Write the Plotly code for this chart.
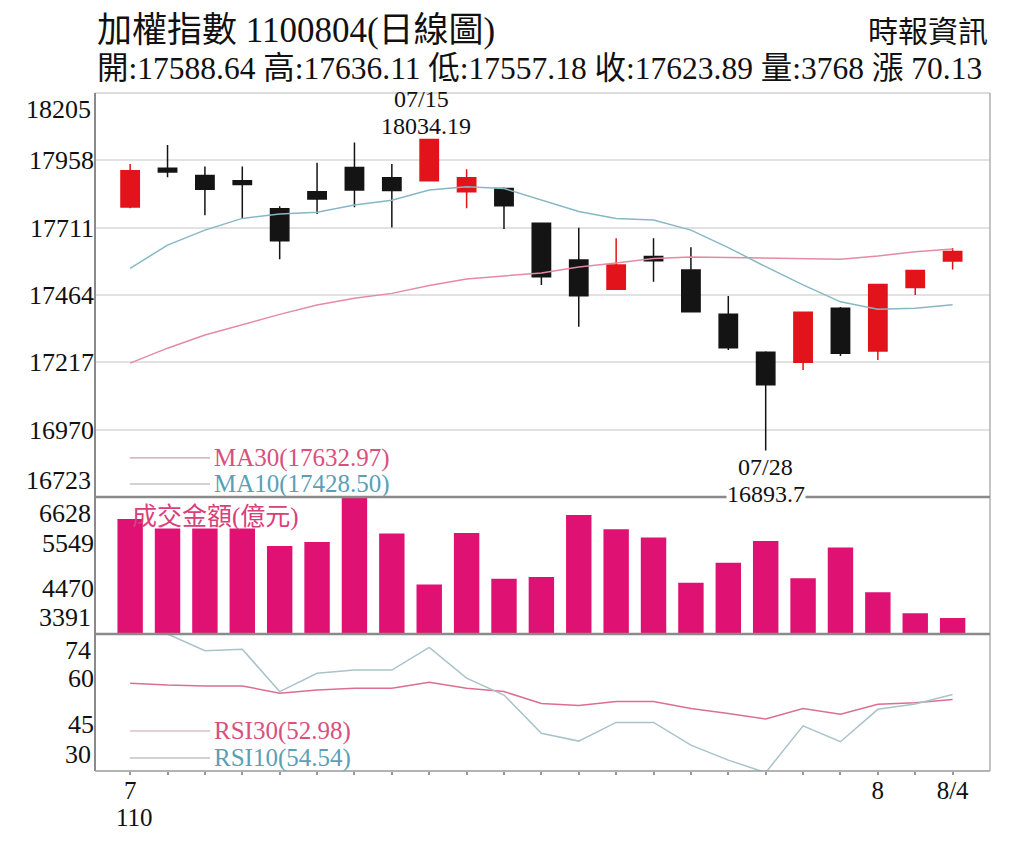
import plotly.graph_objects as go

# ---------------- data ----------------
DATES = ["07/05", "07/06", "07/07", "07/08", "07/09", "07/12", "07/13", "07/14",
         "07/15", "07/16", "07/19", "07/20", "07/21", "07/22", "07/23", "07/26",
         "07/27", "07/28", "07/29", "07/30", "08/02", "08/03", "08/04"]
TICK_TEXT = ["7", "", "", "", "", "", "", "", "", "", "", "", "", "", "", "",
             "", "", "", "", "8", "", "8/4"]
YEAR_LABEL = "110"

OPEN = [17787, 17929, 17902, 17883, 17780, 17843, 17932, 17894, 17883, 17843, 17855, 17727,
        17592, 17485, 17605, 17556, 17393, 17254, 17217, 17415, 17259, 17492, 17588.64]
HIGH = [17945, 18014, 17935, 17935, 17790, 17949, 18023, 17945, 18034.19, 17925, 17858, 17730,
        17711, 17672, 17672, 17639, 17460, 17258, 17403, 17420, 17505, 17556, 17636.11]
LOW = [17782, 17896, 17757, 17745, 17595, 17761, 17786, 17712, 17880, 17782, 17706, 17501,
       17348, 17483, 17513, 17400, 17262, 16893.7, 17189, 17240, 17226, 17464, 17557.18]
CLOSE = [17920, 17915, 17852, 17869, 17663, 17816, 17849, 17847, 18034.19, 17894, 17791, 17531,
         17461, 17574, 17590, 17403, 17271, 17135, 17401, 17250, 17503, 17553.76, 17623.89]

MA10 = [17562, 17647, 17702, 17745, 17761, 17768, 17794, 17812, 17849, 17861, 17855, 17812,
        17770, 17745, 17739, 17702, 17638, 17568, 17501, 17439, 17412, 17415, 17428.50]
MA30 = [17214, 17269, 17317, 17354, 17393, 17427, 17452, 17470, 17499, 17523, 17534, 17545,
        17567, 17581, 17598, 17603, 17602, 17599, 17596, 17595, 17607, 17623, 17632.97]

VOLUME = [6106, 5885, 5885, 5885, 5471, 5566, 6700, 5766, 4562, 5780, 4697, 4735,
          6201, 5868, 5671, 4602, 5077, 5590, 4711, 5433, 4379, 3880, 3768]

RSI30 = [58.2, 57.6, 57.3, 57.3, 55.0, 56.0, 56.6, 56.6, 58.5, 56.6, 55.5, 51.7,
         51.0, 52.3, 52.3, 50.1, 48.5, 46.7, 50.1, 48.2, 51.4, 51.9, 52.98]
RSI10 = [77.0, 74.0, 68.6, 69.1, 55.5, 61.4, 62.4, 62.4, 69.7, 59.8, 54.4, 42.1,
         39.6, 45.6, 45.6, 38.3, 33.5, 29.5, 44.5, 39.4, 49.8, 51.5, 54.54]

PRICE_TICKS = [18205, 17958, 17711, 17464, 17217, 16970, 16723]
VOL_TICKS = [6628, 5549, 4470, 3391]
RSI_TICKS = [74, 60, 45, 30]

TITLE = "加權指數 1100804(日線圖)"
SOURCE = "時報資訊"

X = list(range(len(OPEN)))

# ---------------- style ----------------
RED = "#e3131b"
BLACK = "#141414"
MAG = "#df1172"
MA30_C = "#e58aa2"
MA10_C = "#86b8c4"
MA30_T = "#d9507d"
MA10_T = "#5b9fb6"
RSI30_C = "#dc6f90"
RSI10_C = "#a9c3ca"
FONT = "Liberation Serif, 'Noto Sans CJK TC', serif"

D_PRICE = [0.4041, 1.0]
D_VOL = [0.2021, 0.4041]
D_RSI = [0.0, 0.2021]

fig = go.Figure()

fig.add_trace(go.Scatter(x=X, y=MA30, mode="lines", line=dict(color=MA30_C, width=1.5),
                         yaxis="y", hoverinfo="skip", showlegend=False))
fig.add_trace(go.Scatter(x=X, y=MA10, mode="lines", line=dict(color=MA10_C, width=1.5),
                         yaxis="y", hoverinfo="skip", showlegend=False))
fig.add_trace(go.Candlestick(
    x=X, open=OPEN, high=HIGH, low=LOW, close=CLOSE, yaxis="y", whiskerwidth=0,
    increasing=dict(line=dict(color=RED, width=1.5), fillcolor=RED),
    decreasing=dict(line=dict(color=BLACK, width=1.5), fillcolor=BLACK),
    showlegend=False))

fig.add_trace(go.Bar(x=X, y=VOLUME, yaxis="y2", width=0.68, marker=dict(color=MAG, line=dict(width=0)),
                     showlegend=False))

fig.add_trace(go.Scatter(x=X, y=RSI30, mode="lines", line=dict(color=RSI30_C, width=1.5),
                         yaxis="y3", showlegend=False))
fig.add_trace(go.Scatter(x=X, y=RSI10, mode="lines", line=dict(color=RSI10_C, width=1.5),
                         yaxis="y3", showlegend=False))

tickfont = dict(family=FONT, size=26, color="#111")
common_y = dict(showline=False, zeroline=False, ticks="", tickfont=tickfont, fixedrange=True,
                tickformat="d")

fig.update_layout(
    width=1008, height=844,
    margin=dict(l=87, r=26, t=85, b=81),
    paper_bgcolor="white", plot_bgcolor="white",
    font=dict(family=FONT, color="#111"),
    showlegend=False,
    xaxis=dict(range=[-0.94, 23.0], anchor="y3", tickvals=X, ticktext=TICK_TEXT,
               ticks="outside", ticklen=3, tickcolor="#999", tickwidth=1.5,
               ticklabelstandoff=-6,
               showgrid=False, zeroline=False, showline=False,
               rangeslider=dict(visible=False), tickfont=dict(family=FONT, size=25, color="#111")),
    yaxis=dict(domain=D_PRICE, range=[PRICE_TICKS[-1], PRICE_TICKS[0]],
               tickvals=PRICE_TICKS[1:-1], showgrid=True, gridcolor="#e2e2e2", gridwidth=1.5,
               **common_y),
    yaxis2=dict(domain=D_VOL, range=[VOL_TICKS[-1], VOL_TICKS[0]], tickvals=VOL_TICKS[1:-1],
                showgrid=False, **common_y),
    yaxis3=dict(domain=D_RSI, range=[RSI_TICKS[-1], RSI_TICKS[0]], tickvals=RSI_TICKS[1:-1],
                showgrid=False, **common_y),
)

shapes = []
# frame lines
shapes.append(dict(type="line", xref="paper", yref="paper", x0=0, x1=1, y0=1, y1=1,
                   line=dict(color="#d0d0d0", width=1.5)))
shapes.append(dict(type="line", xref="paper", yref="paper", x0=0, x1=0, y0=0, y1=1,
                   line=dict(color="#8a8a8a", width=2)))
shapes.append(dict(type="line", xref="paper", yref="paper", x0=1, x1=1, y0=0, y1=1,
                   line=dict(color="#b0b0b0", width=1.5)))
for yy in (D_VOL[1], D_RSI[1]):
    shapes.append(dict(type="line", xref="paper", yref="paper", x0=0, x1=1, y0=yy, y1=yy,
                       line=dict(color="#8a8a8a", width=2.5)))
shapes.append(dict(type="line", xref="paper", yref="paper", x0=0, x1=1, y0=0, y1=0,
                   line=dict(color="#9a9a9a", width=1.5)))
# legend lines
for yy, col in ((0.4617, "#c9a0aa"), (0.4233, "#a0a8aa"), (0.0590, "#c9a0aa"), (0.0192, "#a0a8aa")):
    shapes.append(dict(type="line", xref="paper", yref="paper", x0=0.039, x1=0.1285, y0=yy, y1=yy,
                       line=dict(color=col, width=1.2)))
fig.update_layout(shapes=shapes)

ann = []
# boundary tick labels
for val, yr, anc in ((PRICE_TICKS[0], "y", "top"), (PRICE_TICKS[-1], "y", "bottom"),
                     (VOL_TICKS[0], "y2", "top"), (VOL_TICKS[-1], "y2", "bottom"),
                     (RSI_TICKS[0], "y3", "top"), (RSI_TICKS[-1], "y3", "bottom")):
    ann.append(dict(x=0, xref="paper", y=val, yref=yr, text=str(val), showarrow=False,
                    xanchor="right", yanchor=anc, xshift=-2, font=tickfont))

# year label under first tick
ann.append(dict(x=0, xref="x", y=0, yref="paper", text=YEAR_LABEL, showarrow=False,
                xanchor="center", yanchor="top", yshift=-31, xshift=4,
                font=dict(family=FONT, size=25, color="#111")))

# high / low labels
hi = HIGH.index(max(HIGH))
lo = LOW.index(min(LOW))
ann.append(dict(x=hi, y=HIGH[hi], xref="x", yref="y", text=f"{HIGH[hi]}", showarrow=False,
                xanchor="center", yanchor="bottom", yshift=-1, xshift=-3,
                font=dict(family=FONT, size=24, color="#111")))
ann.append(dict(x=hi, y=HIGH[hi], xref="x", yref="y", text=DATES[hi], showarrow=False,
                xanchor="center", yanchor="bottom", yshift=26, xshift=-8,
                font=dict(family=FONT, size=24, color="#111")))
ann.append(dict(x=lo, y=LOW[lo], xref="x", yref="y", text=DATES[lo], showarrow=False,
                xanchor="center", yanchor="top", yshift=-2,
                font=dict(family=FONT, size=24, color="#111")))
ann.append(dict(x=lo, y=LOW[lo], xref="x", yref="y", text=f"{LOW[lo]}", showarrow=False,
                xanchor="center", yanchor="top", yshift=-30, bgcolor="white", borderpad=0,
                font=dict(family=FONT, size=24, color="#111")))

# legends
ann.append(dict(x=0.1307, y=0.4617, xref="paper", yref="paper", text=f"MA30({MA30[-1]:.2f})",
                showarrow=False, xanchor="left", yanchor="middle",
                font=dict(family=FONT, size=25, color=MA30_T)))
ann.append(dict(x=0.1307, y=0.4233, xref="paper", yref="paper", text=f"MA10({MA10[-1]:.2f})",
                showarrow=False, xanchor="left", yanchor="middle",
                font=dict(family=FONT, size=25, color=MA10_T)))
ann.append(dict(x=0.039, y=0.3746, xref="paper", yref="paper", text="成交金額(億元)",
                showarrow=False, xanchor="left", yanchor="middle",
                font=dict(family=FONT, size=25, color="#d9407a")))
ann.append(dict(x=0.1307, y=0.0590, xref="paper", yref="paper", text=f"RSI30({RSI30[-1]:.2f})",
                showarrow=False, xanchor="left", yanchor="middle",
                font=dict(family=FONT, size=25, color=MA30_T)))
ann.append(dict(x=0.1307, y=0.0192, xref="paper", yref="paper", text=f"RSI10({RSI10[-1]:.2f})",
                showarrow=False, xanchor="left", yanchor="middle",
                font=dict(family=FONT, size=25, color=MA10_T)))

# titles
change = CLOSE[-1] - CLOSE[-2]
info = (f"開:{OPEN[-1]:.2f} 高:{HIGH[-1]:.2f} 低:{LOW[-1]:.2f} 收:{CLOSE[-1]:.2f} "
        f"量:{VOLUME[-1]} 漲 {change:.2f}")
ann.append(dict(x=0, y=1.0929, xref="paper", yref="paper", text=TITLE, showarrow=False,
                xanchor="left", yanchor="middle", font=dict(family=FONT, size=35, color="#111")))
ann.append(dict(x=1.0, y=1.0900, xref="paper", yref="paper", text=SOURCE, showarrow=False,
                xanchor="right", yanchor="middle", font=dict(family=FONT, size=30, color="#111")))
ann.append(dict(x=0, y=1.0355, xref="paper", yref="paper", text=info, showarrow=False,
                xanchor="left", yanchor="middle", font=dict(family=FONT, size=31.5, color="#111")))

fig.update_layout(annotations=ann)

fig.write_html("out.html")
